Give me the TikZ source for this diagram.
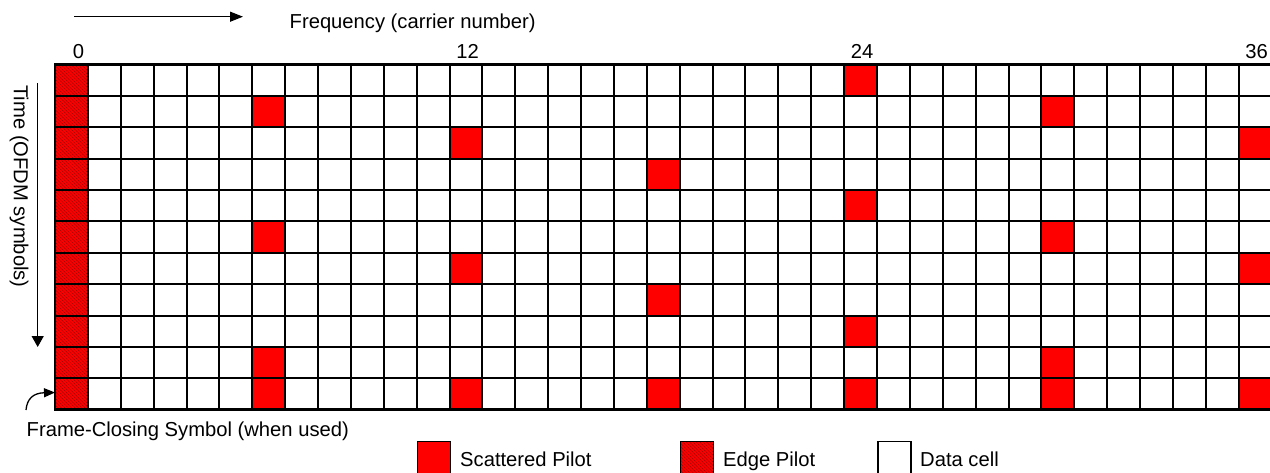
\documentclass[tikz,border=0pt]{standalone}
\usepackage{fontspec}
\setmainfont{Liberation Sans}
\usetikzlibrary{patterns.meta,arrows.meta}
\definecolor{hatchred}{RGB}{150,10,10}
\begin{document}
\begin{tikzpicture}[x=1pt,y=-1pt,
  lbl/.style={font=\fontsize{20.2}{24}\selectfont, inner sep=0pt},
  gridline/.style={line width=2pt, line cap=rect},
  hatch/.style={pattern={Lines[angle=-45,distance=2.4pt,line width=0.5pt]}, pattern color=hatchred},
  arr/.style={line width=1.3pt, -{Triangle[length=13pt,width=10pt]}},
  legbox/.style={draw, line width=1.8pt, minimum width=33pt, minimum height=32pt, inner sep=0pt, anchor=north west},
]
\def\gx{55}
\def\gy{64.3}
\def\cw{32.88}
\def\rh{31.4}
\useasboundingbox (0,0) rectangle (1270,472);

% edge pilot column
\fill[red] (\gx,\gy) rectangle ++(\cw,{11*\rh});
\fill[hatch] (\gx,\gy) rectangle ++(\cw,{11*\rh});

% scattered pilots
\foreach \r/\c in {0/24,1/6,1/30,2/12,2/36,3/18,4/24,5/6,5/30,6/12,6/36,7/18,8/24,9/6,9/30,10/6,10/12,10/18,10/24,10/30,10/36}
  \fill[red] ({\gx+\c*\cw},{\gy+\r*\rh}) rectangle ++(\cw,\rh);

% grid
\foreach \i in {0,...,37}
  \draw[gridline] ({\gx+\i*\cw},\gy) -- ++(0,{11*\rh});
\foreach \j in {0,...,11}
  \draw[gridline] (\gx,{\gy+\j*\rh}) -- ++({37*\cw},0);
\draw[line width=2.6pt] (\gx,\gy) -- ++({37*\cw},0);
\draw[line width=2.6pt] (\gx,{\gy+11*\rh}) -- ++({37*\cw},0);
\draw[line width=2.6pt] (\gx,\gy) -- ++(0,{11*\rh});

% column labels
\foreach \c in {0,12,24,36}
  \node[lbl, anchor=base east] (col\c) at ({\gx+(\c+1)*\cw-3.5},58.5) {\c};

% frequency axis
\coordinate (fa) at (74,16.7);
\coordinate (fb) at (243,16.7);
\draw[arr] (fa) -- (fb);
\node[lbl, anchor=base west] (freq) at (289.5,28.3) {Frequency (carrier number)};

% time axis
\coordinate (ta) at (37.7,83);
\coordinate (tb) at (37.7,347);
\draw[line width=1.3pt, -{Triangle[length=11pt,width=12pt]}] (ta) -- (tb);
\node[lbl, rotate=-90, anchor=center] (time) at (19,186.5) {Time (OFDM symbols)};

% frame-closing symbol
\coordinate (fc0) at (26,410);
\coordinate (fc1) at (\gx,392.5);
\draw[line width=1.3pt, -{Triangle[length=11pt,width=9pt]}] (fc0) .. controls (27,399) and (33,393) .. (fc1);
\node[lbl, anchor=base west] (fcs) at (26.5,436) {Frame-Closing Symbol (when used)};

% legend
\node[legbox, fill=red] (lsp) at (416.5,440.5) {};
\node[lbl, anchor=base west] (tsp) at (460,466.7) {Scattered Pilot};
\node[legbox, preaction={fill=red}, hatch] (lep) at (679.5,440.5) {};
\node[lbl, anchor=base west] (tep) at (723,466.7) {Edge Pilot};
\node[legbox, fill=white] (ldc) at (877,440.5) {};
\node[lbl, anchor=base west] (tdc) at (920,466.7) {Data cell};
\end{tikzpicture}
\end{document}
